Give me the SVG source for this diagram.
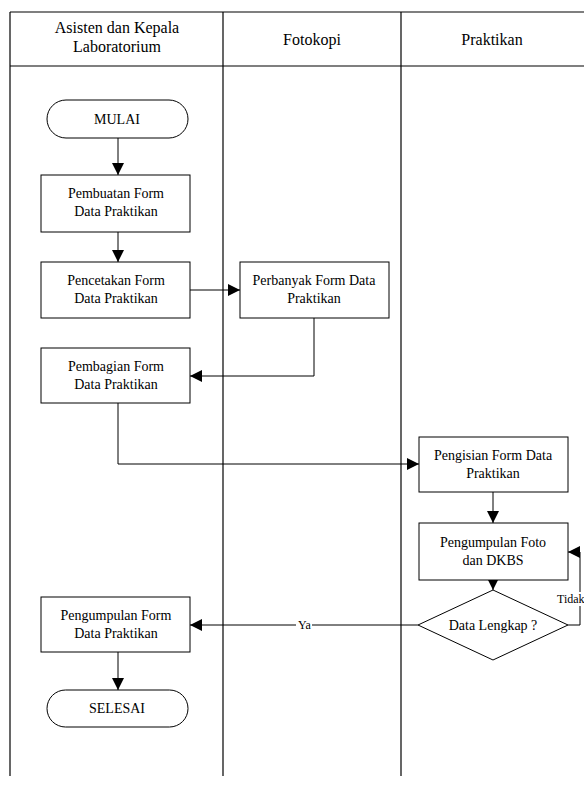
<svg xmlns="http://www.w3.org/2000/svg" width="584" height="790" viewBox="0 0 584 790">
  <defs>
    <marker id="arrow" viewBox="0 0 12 12" refX="12" refY="6" markerWidth="12" markerHeight="12" markerUnits="userSpaceOnUse" orient="auto">
      <path d="M0,0 L12,6 L0,12 Z" fill="#000"/>
    </marker>
    <style>
      .lane { stroke: #000; stroke-width: 1.2; fill: none; }
      .box { fill: #fff; stroke: #000; stroke-width: 1; }
      .conn { stroke: #000; stroke-width: 1; fill: none; marker-end: url(#arrow); }
      text { font-family: 'Liberation Serif', 'Times New Roman', Tinos, 'DejaVu Serif', serif; fill: #000; }
      .txt { font-size: 14px; text-anchor: middle; }
      .head { font-size: 16px; text-anchor: middle; }
      .lbl { font-size: 12px; }
    </style>
  </defs>
  <rect width="584" height="790" fill="#fff"/>

  <!-- swimlanes -->
  <g id="lanes">
    <line class="lane" x1="10" y1="12" x2="584" y2="12"/>
    <line class="lane" x1="10" y1="66" x2="584" y2="66"/>
    <line class="lane" x1="10" y1="12" x2="10" y2="776"/>
    <line class="lane" x1="223" y1="12" x2="223" y2="776"/>
    <line class="lane" x1="401" y1="12" x2="401" y2="776"/>
    <text class="head" x="117" y="33">Asisten dan Kepala</text>
    <text class="head" x="117" y="52">Laboratorium</text>
    <text class="head" x="312" y="45">Fotokopi</text>
    <text class="head" x="492" y="45">Praktikan</text>
  </g>

  <!-- connectors -->
  <g id="connectors">
    <line class="conn" x1="118" y1="138" x2="118" y2="175"/>
    <line class="conn" x1="118" y1="232" x2="118" y2="262"/>
    <line class="conn" x1="190" y1="290" x2="240" y2="290"/>
    <polyline class="conn" points="314,318 314,376 190,376"/>
    <polyline class="conn" points="118,403 118,464 419,464"/>
    <line class="conn" x1="493" y1="492" x2="493" y2="523"/>
    <line class="conn" x1="493" y1="580" x2="493" y2="590"/>
    <polyline class="conn" points="568,625 580,625 580,552 568,552"/>
    <line class="conn" x1="418" y1="625" x2="190" y2="625"/>
    <line class="conn" x1="118" y1="652" x2="118" y2="690"/>
    <rect x="296" y="618" width="16" height="13" fill="#fff"/>
    <text class="lbl" x="298" y="629">Ya</text>
    <rect x="556" y="592" width="28" height="14" fill="#fff"/>
    <text class="lbl" x="557" y="603">Tidak</text>
  </g>

  <g id="mulai">
    <rect class="box" x="47" y="100" width="141" height="38" rx="19" ry="19"/>
    <text class="txt" x="117" y="124">MULAI</text>
  </g>
  <g id="pembuatan">
    <rect class="box" x="41" y="175" width="149" height="57"/>
    <text class="txt" x="116" y="198">Pembuatan Form</text>
    <text class="txt" x="116" y="216">Data Praktikan</text>
  </g>
  <g id="pencetakan">
    <rect class="box" x="41" y="262" width="149" height="56"/>
    <text class="txt" x="116" y="285">Pencetakan Form</text>
    <text class="txt" x="116" y="303">Data Praktikan</text>
  </g>
  <g id="perbanyak">
    <rect class="box" x="240" y="262" width="149" height="56"/>
    <text class="txt" x="314" y="285">Perbanyak Form Data</text>
    <text class="txt" x="314" y="303">Praktikan</text>
  </g>
  <g id="pembagian">
    <rect class="box" x="41" y="348" width="149" height="55"/>
    <text class="txt" x="116" y="371">Pembagian Form</text>
    <text class="txt" x="116" y="389">Data Praktikan</text>
  </g>
  <g id="pengisian">
    <rect class="box" x="419" y="437" width="149" height="55"/>
    <text class="txt" x="493" y="460">Pengisian Form Data</text>
    <text class="txt" x="493" y="478">Praktikan</text>
  </g>
  <g id="pengumpulan-foto">
    <rect class="box" x="419" y="523" width="149" height="57"/>
    <text class="txt" x="493" y="547">Pengumpulan Foto</text>
    <text class="txt" x="493" y="565">dan DKBS</text>
  </g>
  <g id="data-lengkap">
    <polygon class="box" points="493,590 568,625 493,660 418,625"/>
    <text class="txt" x="493" y="630">Data Lengkap ?</text>
  </g>
  <g id="pengumpulan-form">
    <rect class="box" x="41" y="597" width="149" height="55"/>
    <text class="txt" x="116" y="620">Pengumpulan Form</text>
    <text class="txt" x="116" y="638">Data Praktikan</text>
  </g>
  <g id="selesai">
    <rect class="box" x="47" y="690" width="141" height="37" rx="18.5" ry="18.5"/>
    <text class="txt" x="117" y="713">SELESAI</text>
  </g>
</svg>
